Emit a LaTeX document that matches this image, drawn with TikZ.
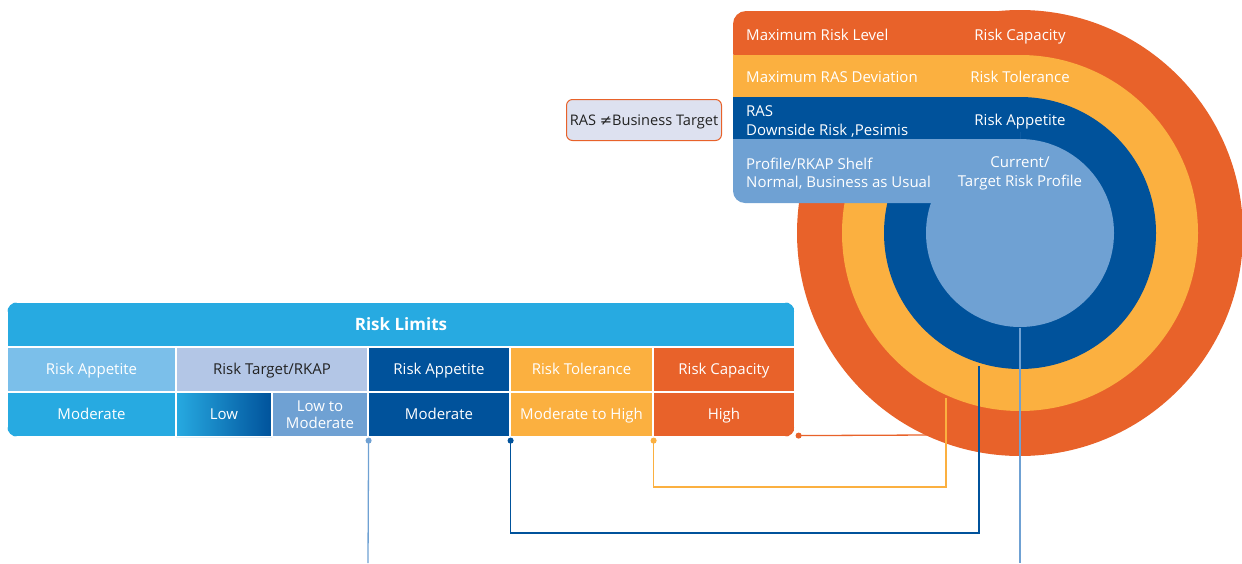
\documentclass[tikz,border=0pt]{standalone}
\usepackage{fontspec}
\setmainfont{Open Sans}
\newfontfamily\symfont{DejaVu Sans}
\usepackage{tikz}
\usetikzlibrary{arrows.meta,positioning}

\definecolor{rlOrange}{HTML}{E8622A}
\definecolor{rlAmber}{HTML}{FBB040}
\definecolor{rlNavy}{HTML}{00529B}
\definecolor{rlSteel}{HTML}{6FA1D3}
\definecolor{rlSky}{HTML}{27AAE1}
\definecolor{rlPale}{HTML}{7BBFEA}
\definecolor{rlLilac}{HTML}{B3C6E6}
\definecolor{rlMist}{HTML}{DDE1F0}
\definecolor{rlInk}{HTML}{222222}

\tikzset{
  cellbase/.style={draw=white, line width=1.2pt, minimum height=45, inner sep=0pt,
    text=white, align=center, font=\fontsize{15}{17}\selectfont},
  cell/.style={cellbase, text height=10.7pt, text depth=0pt},
  band/.style={text=white, anchor=west, align=left, inner sep=0pt,
    font=\fontsize{15}{18.5}\selectfont},
  bandR/.style={text=white, align=center, inner sep=0pt,
    font=\fontsize{15}{18.5}\selectfont},
  capline/.style={text height=10.7pt, text depth=0pt},
  link/.style={line width=1.3pt, {Circle[length=6pt]}-},
}

\begin{document}
\begin{tikzpicture}[x=1pt,y=-1pt]
    \useasboundingbox (0,0) rectangle (1242,563);

    % rings
    \fill[rlOrange] (1020,233) circle[radius=223pt];
    \fill[rlAmber] (1020,233) circle[radius=178pt];
    \fill[rlNavy] (1020,233) circle[radius=136pt];
    \fill[rlSteel] (1020,233) circle[radius=94pt];

    % bands
    \fill[rlOrange, rounded corners=13] (733,11) rectangle (1020,66);
    \fill[rlAmber] (733,55) rectangle (1020,97);
    \fill[rlSteel, rounded corners=12] (733,120) rectangle (1020,203);
    \fill[rlNavy] (733,97) rectangle (1020,139);

    \node[band, capline] (lvlMax) at (746,35) {Maximum Risk Level};
    \node[bandR, capline] (lvlCap) at (1020,35) {Risk Capacity};
    \node[band, capline] (lvlDev) at (746,77.5) {Maximum RAS Deviation};
    \node[bandR, capline] (lvlTol) at (1020,77.5) {Risk Tolerance};
    \node[band] (lvlRas) at (746,121.5) {RAS\\Downside Risk ,Pesimis};
    \node[bandR, capline] (lvlApp) at (1020,120.5) {Risk Appetite};
    \node[band] (lvlShelf) at (746,173.5) {Profile/RKAP Shelf\\Normal, Business as Usual};
    \node[bandR] (lvlProf) at (1020,173.5) {Current/\\Target Risk Profile};

    \node[draw=rlOrange, fill=rlMist, rounded corners=6, line width=1pt,
      minimum width=155, minimum height=41, inner sep=0pt, text=rlInk,
      text height=10.4pt, text depth=0pt,
      font=\fontsize{14.6}{16}\selectfont] (rasNote) at (644,120) {RAS {\symfont ≠}Business Target};

    % risk limits table
    \begin{scope}
        \clip[rounded corners=11] (7,302) rectangle (795,437);
        \node[cell, fill=rlSky, minimum width=788, text height=12.1pt, font=\bfseries\fontsize{17}{19}\selectfont] (limits) at (401,324.5) {Risk Limits};
        \node[cell, fill=rlPale, minimum width=169] (apHead) at (91.5,369.5) {Risk Appetite};
        \node[cell, fill=rlSky, minimum width=169] (apLevel) at (91.5,414.5) {Moderate};
        \node[cell, fill=rlLilac, minimum width=192, text=rlInk] (rkapHead) at (272,369.5) {Risk Target/RKAP};
        \node[cell, left color=rlSky, right color=rlNavy, minimum width=96] (rkapLow) at (224,414.5) {Low};
        \node[cellbase, fill=rlSteel, minimum width=96] (rkapMod) at (320,414.5) {Low to\\Moderate};
        \node[cell, fill=rlNavy, minimum width=142] (appHead) at (439,369.5) {Risk Appetite};
        \node[cell, fill=rlNavy, minimum width=142] (appMod) at (439,414.5) {Moderate};
        \node[cell, fill=rlAmber, minimum width=143] (tolHead) at (581.5,369.5) {Risk Tolerance};
        \node[cell, fill=rlAmber, minimum width=143] (tolMod) at (581.5,414.5) {Moderate to High};
        \node[cell, fill=rlOrange, minimum width=142] (capHead) at (724,369.5) {Risk Capacity};
        \node[cell, fill=rlOrange, minimum width=142] (capHigh) at (724,414.5) {High};
    \end{scope}

    % connectors
    \coordinate (rkapEnd) at (368,563);
    \coordinate (navyTurn) at (979,533);
    \coordinate (navyRing) at (979,366);
    \coordinate (amberTurn) at (946,487);
    \coordinate (amberRing) at (946,398);
    \coordinate (orangeRing) at (928,435);
    \coordinate (profTop) at (1020,328);
    \coordinate (profEnd) at (1020,563);

    \draw[link, rlSteel] (rkapMod.south east) -- (rkapEnd);
    \draw[link, rlNavy] (appMod.south east) |- (navyTurn) -- (navyRing);
    \draw[link, rlAmber] (tolMod.south east) |- (amberTurn) -- (amberRing);
    \draw[link, rlOrange] ([yshift=2pt]capHigh.south east) -- (orangeRing);
    \draw[rlSteel, line width=1.3pt] (profTop) -- (profEnd);
\end{tikzpicture}
\end{document}
